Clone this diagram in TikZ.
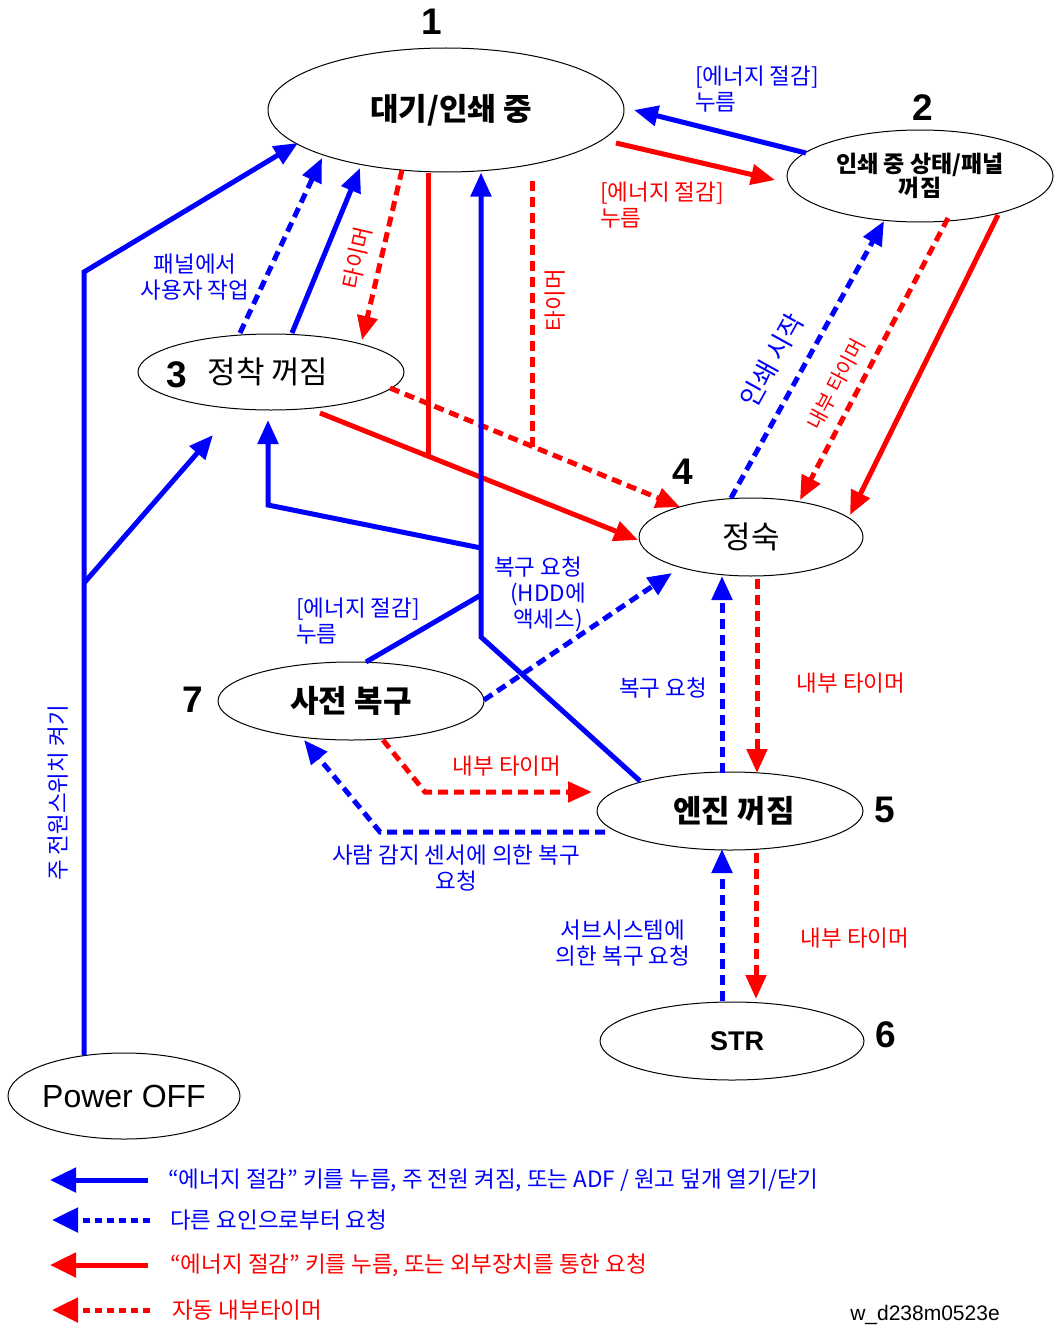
\documentclass[tikz,border=0pt]{standalone}
\usepackage{fontspec}
\setmainfont{Noto Sans CJK KR}
\newfontfamily\arialf{Liberation Sans}
\usetikzlibrary{arrows.meta,calc,shapes.geometric}
\begin{document}
\begin{tikzpicture}[x=1pt,y=-1pt,
  st/.style={draw=black,line width=1pt,ellipse,inner sep=0pt},
  bl/.style={draw=blue,line width=5pt},
  rd/.style={draw=red,line width=5pt},
  dsh/.style={dash pattern=on 10pt off 6pt},
  ldsh/.style={dash pattern=on 7pt off 5pt},
  tip/.style={-{Triangle[length=24pt,width=20pt]}},
  ltip/.style={-{Triangle[length=26pt,width=24pt]}},
  lb/.style={font=\fontsize{22.5}{26}\selectfont, text=blue, inner sep=0pt, align=center},
  lr/.style={font=\fontsize{22.5}{26}\selectfont, text=red, inner sep=0pt, align=center},
  num/.style={font=\arialf\bfseries\fontsize{37}{37}\selectfont, inner sep=0pt},
  nodetxt/.style={font=\fontsize{31}{32}\selectfont},
  nodebf/.style={font=\bfseries\fontsize{31}{32}\selectfont},
  ]
\useasboundingbox[fill=white] (0,0) rectangle (1055,1327);

% states
\node[st,nodebf,minimum width=356pt,minimum height=124pt] (n1) at (446,110) {\hspace*{10pt}대기/인쇄 중};
\node[st,font=\bfseries\fontsize{23}{24}\selectfont,align=center,minimum width=266pt,minimum height=92pt] (n2) at (920,176) {인쇄 중 상태/패널\\꺼짐};
\node[st,nodetxt,minimum width=266pt,minimum height=76pt] (n3) at (271,372) {\hspace*{-6pt}정착 꺼짐};
\node[st,nodetxt,minimum width=224pt,minimum height=78pt] (n4) at (751,537) {정숙};
\node[st,nodebf,minimum width=266pt,minimum height=78pt] (n7) at (351,701) {사전 복구};
\node[st,nodebf,minimum width=266pt,minimum height=78pt] (n5) at (730,811) {\hspace*{8pt}엔진 꺼짐};
\node[st,font=\arialf\bfseries\fontsize{27}{27}\selectfont,minimum width=264pt,minimum height=78pt] (n6) at (732,1041) {\hspace*{10pt}STR};
\node[st,font=\arialf\fontsize{32}{32}\selectfont,minimum width=232pt,minimum height=86pt] (n0) at (124,1096) {Power OFF};

% numbers
\node[num] (k1) at (432,22) {1};
\node[num] (k2) at (923,108) {2};
\node[num] (k3) at (177,375) {3};
\node[num] (k4) at (683,472) {4};
\node[num] (k5) at (885,810) {5};
\node[num] (k6) at (886,1035) {6};
\node[num] (k7) at (193,700) {7};

% bend / junction coordinates
\coordinate (aC) at (84,272);
\coordinate (aJ) at (84,583);
\coordinate (jE) at (428,456);
\coordinate (jF) at (532,447);
\coordinate (gB) at (481,637);
\coordinate (gJ3) at (481,548);
\coordinate (gJ7) at (481,595);
\coordinate (g3c) at (268,505);
\coordinate (iC) at (425,792);
\coordinate (jC) at (380,832);

% A: power on
\draw[bl,tip] ($(n0)+(-40,-41)$) -- (aC) -- ($(n1)+(-148,33)$);
\draw[bl,tip] (aJ) -- ($(n3)+(-58,63)$);
% B, C: 3 -> 1
\draw[bl,dsh,tip] ($(n3)+(-31,-39)$) -- ($(n1)+(-124,48)$);
\draw[bl,tip] ($(n3)+(21,-39)$) -- ($(n1)+(-86,58)$);
% D: 1 -> 3
\draw[rd,dsh,tip] ($(n1)+(-44,60)$) -- ($(n3)+(91,-32)$);
% E: 1,3 -> 4
\draw[rd,tip] ($(n3)+(49,41)$) -- ($(n4)+(-113,3)$);
\draw[rd] (jE) -- (jE |- n1.south);
% F: 1,3 -> 4 timer
\draw[rd,dsh,tip] ($(n3)+(119,16)$) -- ($(n4)+(-71,-30)$);
\draw[rd,dsh] (jF) -- ($(jF |- n1.south)+(0,8)$);
% G: 5,7 -> 1,3
\draw[bl,tip] ($(n5)+(-90,-30)$) -- (gB) -- (gB |- n1.south);
\draw[bl,tip] (gJ3) -- (g3c) -- ($(n3)+(-3,48)$);
\draw[bl] (gJ7) -- ($(n7)+(15,-39)$);
% H: 7 -> 4
\draw[bl,dsh,tip] ($(n7)+(133,-1)$) -- ($(n4)+(-79,36)$);
% I: 7 -> 5
\draw[rd,dsh,tip] ($(n7)+(32,39)$) -- (iC) -- ($(n5)+(-138,-19)$);
% J: 5 -> 7
\draw[bl,dsh,tip] ($(n5)+(-125,21)$) -- (jC) -- ($(n7)+(-47,39)$);
% K, L: 4 <-> 5
\draw[bl,dsh,tip] ($(n5)+(-8,-38)$) -- ($(n4)+(-29,39)$);
\draw[rd,dsh,tip] ($(n4)+(6,42)$) -- ($(n5)+(27,-38)$);
% M, N: 5 <-> 6
\draw[bl,dsh,tip] ($(n6)+(-10,-40)$) -- ($(n5)+(-8,38)$);
\draw[rd,dsh,tip] ($(n5)+(26,42)$) -- ($(n6)+(24,-42)$);
% O, P: 1 <-> 2
\draw[bl,tip] ($(n2)+(-114,-23)$) -- ($(n1)+(188,0)$);
\draw[rd,tip] ($(n1)+(170,33)$) -- ($(n2)+(-145,4)$);
% Q, R, S: 2 <-> 4
\draw[bl,dsh,tip] ($(n4)+(-20,-39)$) -- ($(n2)+(-36,45)$);
\draw[rd,dsh,tip] ($(n2)+(28,42)$) -- ($(n4)+(49,-37)$);
\draw[rd,tip] ($(n2)+(78,39)$) -- ($(n4)+(99,-22)$);

% labels
\node[lb,align=left,anchor=west] (tO) at (695,89) {[에너지 절감]\\누름};
\node[lr,align=left,anchor=west] (tP) at (600,205) {[에너지 절감]\\누름};
\node[lb] (tB) at (195,277) {패널에서\\사용자 작업};
\node[lr,rotate=77] (tD) at (357,258) {타이머};
\node[lr,rotate=90] (tF) at (555,300) {타이머};
\node[lb,font=\fontsize{26}{26}\selectfont,rotate=61] (tQ) at (772,360) {인쇄 시작};
\node[lr,font=\fontsize{20.5}{20.5}\selectfont,rotate=62] (tR) at (836,384) {내부 타이머};
\node[lb] (tG) at (538,594) {복구 요청\\\hspace*{20pt}(HDD에\\\hspace*{20pt}액세스)};
\node[lb,align=left,anchor=west] (tG7) at (296,621) {[에너지 절감]\\누름};
\node[lb] (tK) at (663,688) {복구 요청};
\node[lr] (tL) at (851,683) {내부 타이머};
\node[lr] (tI) at (507,766) {내부 타이머};
\node[lb] (tJ) at (456,868) {사람 감지 센서에 의한 복구\\요청};
\node[lb] (tM) at (623,943) {서브시스템에\\의한 복구 요청};
\node[lr] (tN) at (855,938) {내부 타이머};
\node[lb,rotate=90] (tA) at (58,793) {주 전원스위치 켜기};

% legend
\node[lb,anchor=west] (L1) at (168,1180) {“에너지 절감” 키를 누름, 주 전원 켜짐, 또는 ADF / 원고 덮개 열기/닫기};
\node[lb,anchor=west] (L2) at (170,1220) {다른 요인으로부터 요청};
\node[lr,anchor=west] (L3) at (170,1265) {“에너지 절감” 키를 누름, 또는 외부장치를 통한 요청};
\node[lr,anchor=west] (L4) at (172,1310) {자동 내부타이머};
\draw[bl,ltip] ($(L1.west)+(-20,0)$) -- ($(L1.west)+(-118,0)$);
\draw[bl,ldsh,ltip] ($(L2.west)+(-20,0)$) -- ($(L2.west)+(-118,0)$);
\draw[rd,ltip] ($(L3.west)+(-22,0)$) -- ($(L3.west)+(-120,0)$);
\draw[rd,ldsh,ltip] ($(L4.west)+(-22,0)$) -- ($(L4.west)+(-120,0)$);
\node[font=\arialf\fontsize{21}{21}\selectfont,inner sep=0pt] (foot) at (925,1315) {w\_d238m0523e};
\end{tikzpicture}
\end{document}
